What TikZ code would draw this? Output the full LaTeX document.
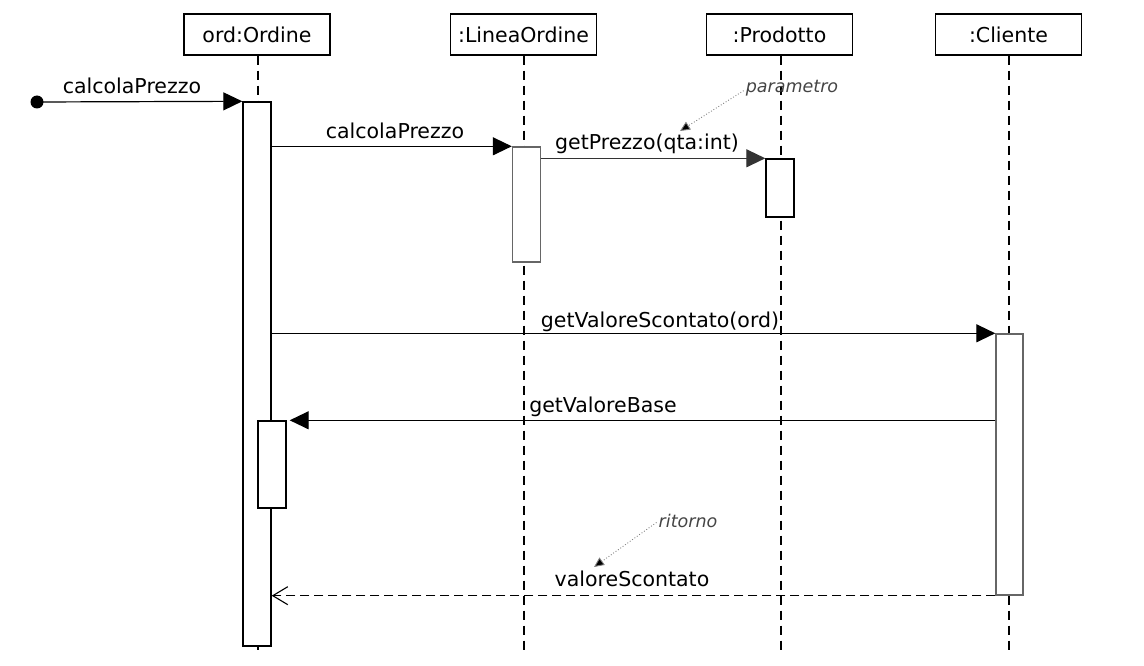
\documentclass[tikz,border=0pt]{standalone}
\usepackage{fontspec}
\setmainfont{DejaVu Sans}
\usetikzlibrary{arrows.meta}
\definecolor{notegray}{HTML}{444444}
\definecolor{boxgray}{HTML}{666666}
\tikzset{
  obj/.style={draw, line width=1.2pt, minimum width=146pt, minimum height=41pt, inner sep=0pt, font=\fontsize{20.5}{23}\selectfont},
  life/.style={line width=1.1pt, dash pattern=on 9pt off 6pt},
  act/.style={draw, fill=white, line width=1.4pt, inner sep=0pt, minimum width=28pt},
  actg/.style={act, draw=boxgray},
  msg/.style={line width=1.2pt, -{Triangle[length=19pt,width=18pt]}},
  ret/.style={line width=1.2pt, dash pattern=on 9pt off 5pt, -{Straight Barb[length=15pt,width=18pt,line width=1.1pt]}},
  lbl/.style={anchor=base, inner sep=0pt, font=\fontsize{20.5}{23}\selectfont},
  note/.style={anchor=base, inner sep=0pt, text=notegray, font=\fontsize{17.5}{20}\selectfont\itshape},
  noteline/.style={draw=gray, line width=0.9pt, dotted, -{Triangle[length=10pt,width=9pt,fill=black]}},
}
\begin{document}
\begin{tikzpicture}[x=1pt,y=-1pt]
\useasboundingbox (0,0) rectangle (1144,666);
% objects
\node[obj] (ord) at (257,34.5) {ord:Ordine};
\node[obj] (lin) at (523.5,34.5) {:LineaOrdine};
\node[obj] (pro) at (779.5,34.5) {:Prodotto};
\node[obj] (cli) at (1008.5,34.5) {:Cliente};
% lifeline ends
\coordinate (ordE) at (258,655);
\coordinate (linE) at (524,655);
\coordinate (proE) at (781,655);
\coordinate (cliE) at (1009,655);
\draw[life] (ord.south -| ordE) -- (ordE);
\draw[life] (lin.south -| linE) -- (linE);
\draw[life] (pro.south -| proE) -- (proE);
\draw[life] (cli.south -| cliE) -- (cliE);
% activations
\node[act, minimum height=544pt] (a1) at (257,374) {};
\node[actg, minimum height=115pt] (a2) at (526.5,204.5) {};
\node[act, minimum height=58pt] (a3) at (780,188) {};
\node[actg, minimum width=27pt, minimum height=261pt] (a4) at (1009.5,464.5) {};
\node[act, minimum height=87pt] (a5) at (272,464.5) {};
% start
\node[circle, fill=black, inner sep=0pt, minimum size=13pt] (start) at (37,102) {};
% messages
\draw[msg] (start.center) -- (a1.north west);
\draw[msg] (a1.east |- a2.north) -- (a2.north west);
\draw[msg, draw=black!80] (a2.east |- a3.north) -- (a3.north west);
\draw[msg] (a1.east |- a4.north) -- (a4.north west);
\draw[msg, shorten >=3pt] (a4.west |- a5.north) -- (a5.north east);
\draw[ret] (a4.south west) -- (a1.east |- a4.south);
% labels
\node[lbl] (l1) at (132,94) {calcolaPrezzo};
\node[lbl] (l2) at (395,139) {calcolaPrezzo};
\node[lbl] (l3) at (647,150) {getPrezzo(qta:int)};
\node[lbl] (l4) at (660,327) {getValoreScontato(ord)};
\node[lbl] (l5) at (603,412) {getValoreBase};
\node[lbl] (l6) at (632,586) {valoreScontato};
% notes
\node[note] (n1) at (792,93) {parametro};
\node[note] (n2) at (688,527) {ritorno};
\coordinate (n1t) at (680,131);
\coordinate (n2t) at (594,567);
\draw[noteline] (n1.west) ++(-2,2) -- (n1t);
\draw[noteline] (n2.west) ++(-2,2) -- (n2t);
\end{tikzpicture}
\end{document}
